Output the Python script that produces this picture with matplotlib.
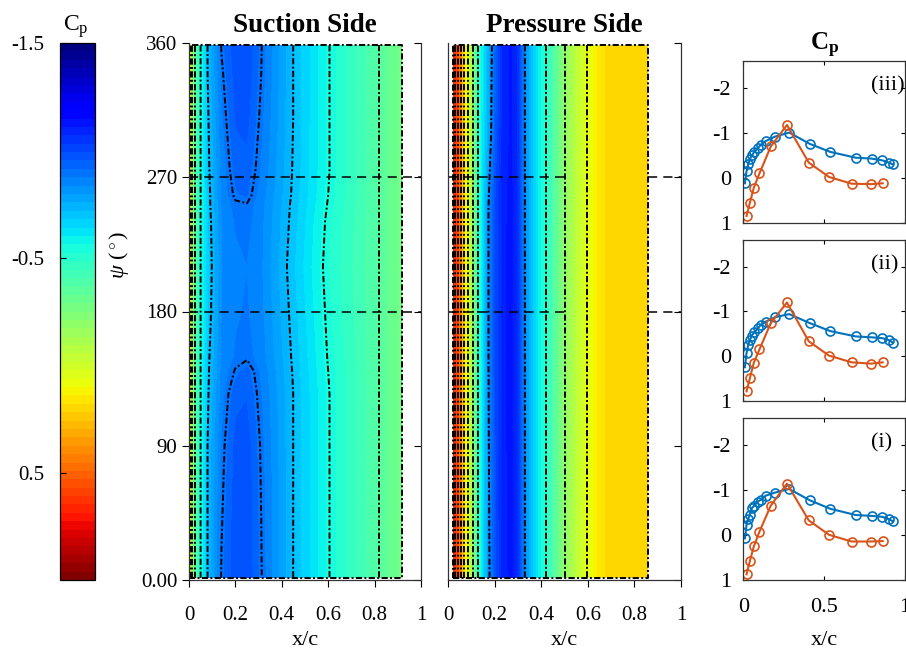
import numpy as np
import matplotlib
matplotlib.use('Agg')
import matplotlib.pyplot as plt
from matplotlib.colors import Normalize
from matplotlib.cm import ScalarMappable

plt.rcParams['font.family'] = ['Liberation Serif', 'DejaVu Serif']
plt.rcParams['mathtext.fontset'] = 'custom'
plt.rcParams['mathtext.rm'] = 'Liberation Serif'
plt.rcParams['mathtext.it'] = 'Liberation Serif:italic'
plt.rcParams['mathtext.bf'] = 'Liberation Serif:bold'
plt.rcParams['axes.unicode_minus'] = False

# ---------------- data ----------------
# suction-side surface field (rows: psi, cols: x/c)
suc_x = [0, 0.01, 0.02, 0.035, 0.05, 0.08, 0.14, 0.2, 0.25, 0.31, 0.44, 0.6, 0.82, 0.92]
suc_psi = [1.5, 40, 90, 125, 140, 150, 180, 210, 240, 252, 258, 275, 310, 340, 358.5]
suc_le = [0.15, -0.1, -0.3, -0.45, -0.55]
suc_rest = [
    [-0.72, -0.905, -0.98, -0.99, -0.905, -0.73, -0.555, -0.36, -0.27],
    [-0.72, -0.895, -0.98, -0.99, -0.902, -0.73, -0.555, -0.36, -0.27],
    [-0.72, -0.88, -0.97, -0.98, -0.895, -0.73, -0.555, -0.36, -0.27],
    [-0.71, -0.86, -0.94, -0.95, -0.88, -0.73, -0.555, -0.36, -0.27],
    [-0.705, -0.85, -0.905, -0.93, -0.87, -0.725, -0.55, -0.36, -0.27],
    [-0.70, -0.845, -0.88, -0.89, -0.86, -0.72, -0.545, -0.36, -0.27],
    [-0.68, -0.84, -0.87, -0.88, -0.85, -0.71, -0.535, -0.36, -0.27],
    [-0.67, -0.835, -0.865, -0.875, -0.845, -0.70, -0.525, -0.36, -0.27],
    [-0.68, -0.84, -0.88, -0.89, -0.85, -0.71, -0.535, -0.36, -0.27],
    [-0.69, -0.845, -0.893, -0.898, -0.855, -0.715, -0.545, -0.36, -0.27],
    [-0.69, -0.85, -0.91, -0.92, -0.86, -0.72, -0.55, -0.36, -0.27],
    [-0.70, -0.855, -0.93, -0.94, -0.875, -0.725, -0.555, -0.36, -0.27],
    [-0.71, -0.87, -0.96, -0.97, -0.89, -0.73, -0.555, -0.36, -0.27],
    [-0.72, -0.89, -0.975, -0.985, -0.902, -0.73, -0.555, -0.36, -0.27],
    [-0.72, -0.905, -0.98, -0.99, -0.905, -0.73, -0.555, -0.36, -0.27],
]
suc_cp = [suc_le + r for r in suc_rest]

# pressure-side surface field
pre_x = [0.02, 0.035, 0.05, 0.06, 0.07, 0.085, 0.1, 0.115, 0.13, 0.15, 0.175, 0.2, 0.23, 0.27,
         0.3, 0.33, 0.375, 0.42, 0.46, 0.5, 0.55, 0.6, 0.64, 0.68, 0.86]
pre_psi = [1.5, 150, 250, 300, 358.5]
pre_cp = [
    [0.7, 0.6, 0.45, 0.32, 0.18, 0.055, -0.1, -0.3, -0.5, -0.65, -0.83, -0.98, -1.08, -1.13, -1.07, -0.85, -0.65, -0.5, -0.35, -0.2, -0.05, 0.06, 0.14, 0.19, 0.19],
    [0.7, 0.6, 0.45, 0.32, 0.18, 0.055, -0.1, -0.3, -0.5, -0.66, -0.86, -0.99, -1.09, -1.14, -1.07, -0.85, -0.65, -0.5, -0.35, -0.2, -0.05, 0.06, 0.14, 0.19, 0.19],
    [0.7, 0.6, 0.45, 0.32, 0.18, 0.055, -0.1, -0.3, -0.5, -0.66, -0.86, -0.99, -1.09, -1.13, -1.07, -0.85, -0.65, -0.5, -0.35, -0.2, -0.05, 0.06, 0.14, 0.19, 0.19],
    [0.7, 0.6, 0.45, 0.32, 0.18, 0.055, -0.1, -0.3, -0.5, -0.63, -0.78, -0.95, -1.08, -1.12, -1.07, -0.85, -0.65, -0.5, -0.35, -0.2, -0.05, 0.06, 0.14, 0.19, 0.19],
    [0.7, 0.6, 0.45, 0.32, 0.18, 0.055, -0.1, -0.3, -0.5, -0.62, -0.76, -0.93, -1.07, -1.12, -1.07, -0.85, -0.65, -0.5, -0.35, -0.2, -0.05, 0.06, 0.14, 0.19, 0.19],
]
suc_levels = [-0.9, -0.72, -0.55, -0.36, -0.2, 0.0]
pre_levels = [-0.85, -0.5, -0.2, 0.05, 0.2, 0.35, 0.5, 0.62]
psi_marks = [180, 270]
psi_ticks = [0, 90, 180, 270, 360]
psi_ticklabels = ['0.00', '90', '180', '270', '360']
xc_ticks = [0, 0.2, 0.4, 0.6, 0.8, 1]
xc_ticklabels = ['0', '0.2', '0.4', '0.6', '0.8', '1']
cbar_ticks = [-1.5, -0.5, 0.5]

# chordwise Cp at three stations
tap_x_suc = [0.01, 0.02, 0.03, 0.04, 0.052, 0.068, 0.089, 0.109, 0.138, 0.196, 0.284, 0.41, 0.537, 0.695, 0.793, 0.86, 0.899, 0.926]
tap_x_pre = [0.02, 0.041, 0.065, 0.1, 0.17, 0.27, 0.405, 0.53, 0.67, 0.79, 0.862]
panel_labels = ['(iii)', '(ii)', '(i)']
cp_suc = [
    [0.12, -0.15, -0.30, -0.41, -0.50, -0.58, -0.66, -0.74, -0.82, -0.92, -1.01, -0.76, -0.58, -0.45, -0.43, -0.39, -0.34, -0.30],
    [0.25, -0.07, -0.24, -0.35, -0.46, -0.53, -0.62, -0.70, -0.77, -0.87, -0.94, -0.74, -0.56, -0.44, -0.42, -0.40, -0.36, -0.30],
    [0.08, -0.22, -0.35, -0.44, -0.59, -0.65, -0.74, -0.78, -0.87, -0.94, -1.02, -0.77, -0.58, -0.44, -0.42, -0.40, -0.35, -0.30],
]
cp_pre = [
    [0.85, 0.55, 0.22, -0.10, -0.70, -1.18, -0.34, -0.02, 0.13, 0.14, 0.12],
    [0.79, 0.49, 0.15, -0.15, -0.74, -1.20, -0.33, -0.01, 0.14, 0.17, 0.14],
    [0.88, 0.58, 0.26, -0.07, -0.65, -1.14, -0.32, 0.00, 0.15, 0.15, 0.14],
]

# ---------------- figure ----------------
W, H = 906, 649
fig = plt.figure(figsize=(W / 100, H / 100), dpi=100)

def box(x0, y0, x1, y1):
    return [x0 / W, 1 - y1 / H, (x1 - x0) / W, (y1 - y0) / H]

cmap = plt.get_cmap('jet', 64)
norm = Normalize(vmin=-1.5, vmax=1.0)
fill_levels = np.linspace(-1.5, 1.0, 65)
CL_LS = (0, (3.2, 1.2, 1.0, 1.2))
cl_style = dict(colors='k', linewidths=1.4, linestyles=[CL_LS])
HL_LS = (0, (6, 4))
TFS = 15
SPC = '#333333'

def surface(ax, xs, ps, cp, levels):
    X, P = np.meshgrid(xs, ps)
    Z = np.array(cp)
    ax.contourf(X, P, Z, levels=fill_levels, cmap=cmap, norm=norm)
    ax.contour(X, P, Z, levels=levels, **cl_style)
    ax.plot([xs[0], xs[-1], xs[-1], xs[0], xs[0]], [ps[0], ps[0], ps[-1], ps[-1], ps[0]],
            color='k', lw=1.4, ls=CL_LS)
    ax.set_xlim(0, 1)
    ax.set_ylim(0, 360)
    ax.spines['top'].set_visible(False)
    ax.set_xticks(xc_ticks)
    ax.set_xticklabels(xc_ticklabels, fontsize=TFS)
    ax.set_yticks(psi_ticks)
    ax.tick_params(axis='x', direction='out', length=5, width=0.8, top=False, pad=14)
    ax.set_xlabel('x/c', fontsize=TFS + 1, labelpad=4)
    for s in ax.spines.values():
        s.set_linewidth(0.9)
        s.set_color(SPC)

# suction side
ax_s = fig.add_axes(box(189, 43, 421, 580))
surface(ax_s, suc_x, suc_psi, suc_cp, suc_levels)
ax_s.set_yticklabels(psi_ticklabels, fontsize=TFS)
ax_s.tick_params(axis='y', left=True, right=False, direction='out', length=5, width=0.8)
ax_s.spines['right'].set_visible(False)
sec = ax_s.secondary_yaxis('right')
sec.set_yticks(psi_ticks)
sec.tick_params(direction='in', length=5, width=0.8, labelright=False)
sec.spines['right'].set_linewidth(0.9)
sec.spines['right'].set_color(SPC)
ax_s.set_ylabel(r'$\psi$ ($^\circ$)', fontsize=TFS + 1)
ax_s.yaxis.set_label_coords(-0.25, 0.605)
ax_s.set_title('Suction Side', fontsize=19.5, fontweight='bold', pad=8)
for y in psi_marks:
    ax_s.axhline(y, color='k', lw=1.1, ls=HL_LS)

# pressure side
ax_p = fig.add_axes(box(448, 43, 681, 580))
surface(ax_p, pre_x, pre_psi, pre_cp, pre_levels)
ax_p.set_yticklabels([])
ax_p.tick_params(axis='y', left=False, right=True, direction='in', length=5, width=0.8)
ax_p.set_title('Pressure Side', fontsize=19.5, fontweight='bold', pad=8)
for y in psi_marks:
    ax_p.axhline(y, xmin=0, xmax=0.52, color='k', lw=1.1, ls=HL_LS)
    ax_p.axhline(y, xmin=0.86, xmax=1, color='k', lw=1.1, ls=HL_LS)

# colorbar
cax = fig.add_axes(box(60, 43, 95, 580))
cb = fig.colorbar(ScalarMappable(norm=norm, cmap=cmap), cax=cax, ticks=cbar_ticks)
cax.invert_yaxis()
cax.yaxis.set_ticks_position('left')
cax.set_yticklabels(['-1.5', '-0.5', '0.5'], fontsize=TFS)
cax.tick_params(axis='y', direction='in', length=4, width=0.8, pad=11)
cb.outline.set_linewidth(0.9)
cax.text(0.45, 1.005, r'$\mathrm{C_p}$', transform=cax.transAxes, ha='center', va='bottom', fontsize=TFS + 2)

# Cp line plots
blue = (0.0, 0.447, 0.741)
orange = (0.85, 0.325, 0.098)
panel_boxes = [(743.3, 61.3, 905, 222.7), (743.3, 240, 905, 400.7), (743.3, 418, 905, 579.7)]
for i, (bx, lab, cs, cpp) in enumerate(zip(panel_boxes, panel_labels, cp_suc, cp_pre)):
    ax = fig.add_axes(box(*bx))
    ax.plot(tap_x_suc, cs, '-o', color=blue, lw=1.5, ms=6.5, mfc='none', mec=blue, mew=1.2)
    ax.plot(tap_x_pre, cpp, '-o', color=orange, lw=1.5, ms=6.5, mfc='none', mec=orange, mew=1.2)
    ax.set_xlim(0, 1)
    ax.set_ylim(1, -2.6)
    ax.set_yticks([-2, -1, 0, 1])
    ax.set_yticklabels(['-2', '-1', '0', '1'], fontsize=TFS + 1)
    ax.set_xticks([0, 0.5, 1])
    ax.tick_params(direction='in', length=3, width=0.8, top=True, right=True)
    ax.tick_params(axis='y', pad=9)
    ax.tick_params(axis='x', pad=13)
    if i == 2:
        ax.set_xticklabels(['0', '0.5', '1'], fontsize=TFS + 1)
        ax.set_xlabel('x/c', fontsize=TFS + 1, labelpad=10)
    else:
        ax.set_xticklabels([])
    ax.text(0.79, 0.845, lab, transform=ax.transAxes, ha='left', va='center', fontsize=TFS + 1)
    for s in ax.spines.values():
        s.set_linewidth(0.9)
        s.set_color(SPC)
    if i == 0:
        ax.set_title(r'$\mathbf{C_p}$', fontsize=18, pad=8)

fig.savefig('out.png', dpi=100)
